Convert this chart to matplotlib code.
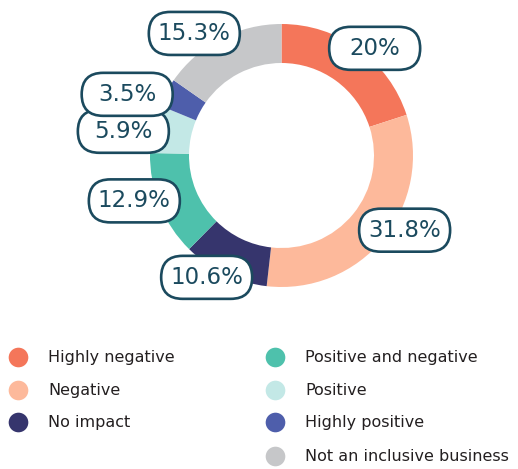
import numpy as np
import matplotlib.pyplot as plt
from matplotlib.patches import FancyBboxPatch

categories = ["Highly negative", "Negative", "No impact", "Positive and negative",
              "Positive", "Highly positive", "Not an inclusive business"]
shares = [20, 31.8, 10.6, 12.9, 5.9, 3.5, 15.3]
share_labels = ["20%", "31.8%", "10.6%", "12.9%", "5.9%", "3.5%", "15.3%"]
colors = ["#F4765A", "#FDB99B", "#36356D", "#4EC1AC", "#C3E8E6", "#4E5EAB", "#C6C7C9"]

W, H = 518, 469
fig = plt.figure(figsize=(W / 100, H / 100), dpi=100)
ax = fig.add_axes([0, 0, 1, 1])

cx, cy, R = 281.5, H - 155.5, 131.5
wedges, _ = ax.pie(shares, colors=colors, startangle=90, counterclock=False,
                   center=(cx, cy), radius=R,
                   wedgeprops=dict(width=39, linewidth=0))

# label placement: radius + small angle nudge per slice to avoid overlaps
lab_r = [142, 144, 143, 154, 160, 166, 150]
lab_nudge = [-5, 8, -6, -5, 3, 7, 8]
edge = "#1B4A5E"
bw, bh = 91, 43  # pill size in px
for w, txt, r, dn in zip(wedges, share_labels, lab_r, lab_nudge):
    ang = np.deg2rad((w.theta1 + w.theta2) / 2 + dn)
    x, y = cx + r * np.cos(ang), cy + r * np.sin(ang)
    ax.add_patch(FancyBboxPatch((x - bw / 2, y - bh / 2), bw, bh,
                                boxstyle="round,pad=0,rounding_size=21.5",
                                fc="white", ec=edge, lw=1.9, zorder=3))
    ax.text(x, y, txt, ha="center", va="center", fontsize=16.5,
            color=edge, zorder=4)

# legend, two columns (3 + 4)
col_x = [18, 275]
row_y = [357, 390, 422, 456]
for i, (name, c) in enumerate(zip(categories, colors)):
    col = 0 if i < 3 else 1
    row = i if i < 3 else i - 3
    x, y = col_x[col], H - row_y[row]
    ax.scatter([x], [y], s=200, color=c, linewidths=0)
    ax.text(x + 30, y, name, ha="left", va="center", fontsize=11.5, color="#231F20")

ax.set_xlim(0, W)
ax.set_ylim(0, H)
ax.set_aspect("auto")
ax.axis("off")
fig.savefig("out.png", dpi=100)
